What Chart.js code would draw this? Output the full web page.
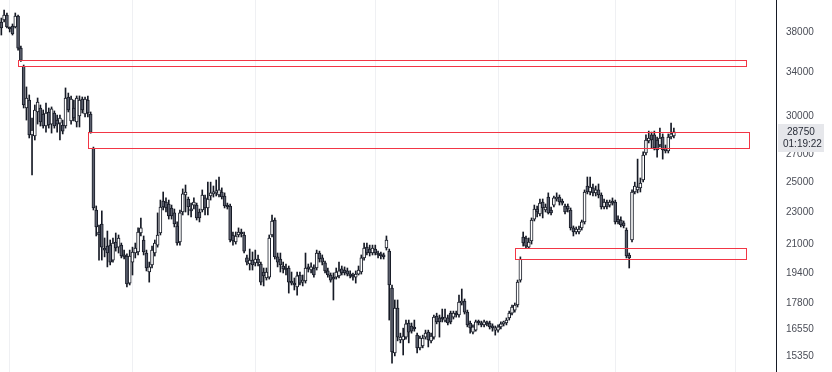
<!DOCTYPE html>
<html>
<head>
<meta charset="utf-8">
<script src="https://cdn.jsdelivr.net/npm/chart.js@4.4.0/dist/chart.umd.min.js"></script>
<style>
  html, body { margin: 0; padding: 0; background: #fff; }
  #wrap { width: 832px; height: 372px; }
</style>
</head>
<body>
<div id="wrap"><canvas id="chart" width="832" height="372"></canvas></div>
<script>
// daily bars (weekdays only), first bar 2022-04-27
const startDate = '2022-04-27'

const opens = [
  39080, 39300, 39860, 38440, 38650, 38540, 39750, 36340, 34540, 30740,
  31430, 28510, 28430, 30400, 30740, 30230, 29230, 30400, 29390, 30310,
  29720, 29470, 29310, 29230, 31700, 29640, 30740, 29560, 30060, 31520,
  30230, 31430, 30230, 27470, 23120, 21740, 22230, 20790, 20900, 20960,
  20100, 21140, 20840, 20960, 20390, 20330, 18850, 19990, 20500, 20560,
  21680, 21260, 20500, 19440, 19830, 20500, 20960, 21680, 23700, 23640,
  23510, 23250, 22930, 22110, 21140, 22990, 24110, 23840, 23180, 23440,
  23440, 22990, 23120, 23910, 23250, 24040, 24180, 24250, 24110, 24310,
  24040, 23440, 23380, 21560, 21140, 21560, 21680, 21560, 20220, 19880,
  20100, 19940, 20160, 19880, 19440, 19120, 19170, 21560, 22480, 20280,
  20160, 19770, 19660, 19660, 18960, 18850, 18650, 19280, 18900, 18960,
  19660, 19550, 19660, 19660, 20500, 20220, 19940, 19500, 19280, 19170,
  19170, 19230, 19610, 19550, 19500, 19330, 19230, 19170, 19330, 19440,
  20220, 20840, 20730, 20500, 20730, 20450, 20450, 20330, 20790, 20610,
  18590, 15510, 17580, 16080, 16080, 16210, 16860, 16720, 16630, 16300,
  15730, 15820, 16210, 16440, 16040, 16210, 17190, 17100, 17100, 17000,
  17100, 17330, 17140, 17290, 17240, 17830, 17930, 17380, 16860, 16440,
  16530, 16910, 16860, 16770, 16860, 16860, 16720, 16530, 16530, 16680,
  16820, 16860, 17100, 17330, 17480, 17730, 19010, 21440, 21380, 20840,
  21200, 22540, 23180, 22860, 23640, 23120, 23970, 23120, 23440, 23840,
  23970, 23640, 23380, 23380, 23120, 21990, 21740, 21740, 21990, 22360,
  24720, 24310, 24590, 24250, 24450, 24110, 23310, 23640, 23440, 23700,
  23640, 22540, 22480, 22300, 21860, 20390, 21260, 24310, 24450, 24590,
  25140, 27110, 28030, 28510, 28510, 28110, 27720, 28350, 27490, 27260,
  28350, 28430
]
const highs = [
  39520, 40420, 40080, 38540, 38870, 40080, 39860, 36550, 34660, 32600,
  31880, 29890, 31000, 31610, 31000, 30570, 31170, 30740, 30830, 30490,
  30140, 30140, 29720, 32510, 32050, 31790, 31430, 31790, 31790, 31700,
  31700, 31790, 30400, 27560, 23380, 22170, 23060, 21380, 21800, 21260,
  21380, 21680, 21560, 21080, 20670, 20450, 20670, 20840, 21080, 21990,
  22610, 21500, 20670, 19990, 20900, 21260, 22930, 23770, 24310, 23910,
  23770, 23440, 23180, 22360, 23120, 24520, 24790, 23970, 23570, 23910,
  23570, 23180, 24450, 24110, 24990, 24990, 24720, 25140, 25350, 24590,
  24250, 23570, 23510, 21740, 21740, 21990, 21920, 21740, 20390, 20730,
  20560, 20670, 20390, 19990, 19660, 19660, 21560, 22800, 22610, 20500,
  20500, 19990, 19880, 19770, 19440, 19120, 19440, 19440, 19280, 20500,
  19880, 19940, 19830, 20670, 20610, 20390, 20050, 19660, 19390, 19390,
  19660, 19990, 19770, 19720, 19660, 19500, 19390, 19500, 19770, 20390,
  21080, 21080, 20960, 20960, 20960, 20610, 20560, 20500, 21500, 20730,
  18750, 17980, 17980, 16390, 16620, 17000, 17000, 16860, 17000, 16390,
  16260, 16300, 16530, 16530, 16390, 17240, 17330, 17240, 17530, 17530,
  17240, 17430, 17430, 17430, 18230, 18540, 18030, 17480, 16950, 16770,
  17000, 17000, 16950, 17000, 16950, 16950, 16820, 16720, 16770, 16910,
  16950, 17100, 17430, 17730, 17830, 19010, 20280, 21740, 21500, 21380,
  22610, 23440, 23380, 23840, 23840, 23510, 24250, 23310, 24040, 24250,
  24110, 23840, 23510, 23510, 23250, 22110, 22050, 22110, 22480, 24450,
  25350, 25350, 24860, 24720, 24860, 24250, 23840, 23770, 23770, 23910,
  23770, 22740, 22680, 22420, 21990, 20500, 24450, 24990, 26650, 25280,
  27190, 28510, 28820, 28740, 28820, 28350, 29060, 28590, 27720, 28590,
  29470, 29060
]
const lows = [
  37690, 39080, 38440, 38010, 37690, 38440, 36140, 35000, 30740, 29720,
  28270, 25490, 28110, 29390, 29230, 29060, 28740, 29060, 28660, 29060,
  28740, 28110, 28590, 29060, 30400, 29390, 29640, 29150, 29150, 30310,
  29980, 29980, 28650, 23120, 21500, 20100, 20100, 20280, 19720, 19830,
  19990, 20610, 20500, 20220, 20160, 18650, 18750, 19280, 20220, 20390,
  21500, 20390, 19500, 18900, 19660, 20330, 20840, 21560, 23120, 22990,
  22540, 22540, 22050, 20960, 20960, 22800, 22990, 22800, 22680, 23180,
  22480, 22360, 22990, 22800, 22800, 23770, 23970, 24040, 23970, 23840,
  23250, 23180, 21140, 20960, 21020, 21440, 21440, 20500, 19830, 19550,
  19550, 19770, 19770, 18750, 18700, 19010, 19060, 21440, 20160, 19720,
  19440, 19390, 19280, 18330, 18750, 18490, 18230, 18750, 18700, 18850,
  19440, 19390, 19170, 19550, 19990, 19830, 19390, 19170, 18900, 17980,
  19060, 19120, 19280, 19280, 19230, 19120, 19010, 18850, 19280, 19330,
  20100, 20390, 20330, 20390, 20390, 20220, 20160, 20160, 20670, 17000,
  15070, 15380, 16040, 15950, 15420, 16120, 15950, 16390, 16480, 15510,
  15640, 15730, 16120, 15770, 15950, 16120, 16820, 16210, 16910, 16910,
  16770, 16820, 17050, 17140, 17140, 17730, 17290, 16680, 16390, 16350,
  16480, 16770, 16680, 16680, 16720, 16580, 16480, 16300, 16440, 16580,
  16720, 16770, 17000, 17240, 17380, 17630, 18900, 20900, 20780, 20790,
  21020, 22420, 22680, 22740, 22610, 22990, 22860, 22800, 23310, 23700,
  23440, 23440, 22860, 22990, 21860, 21500, 21620, 21620, 21860, 22230,
  24180, 24110, 24040, 24040, 23910, 23180, 23180, 23180, 23310, 23440,
  22230, 22230, 22050, 21990, 20220, 19660, 21140, 24180, 24250, 24310,
  25000, 26960, 27880, 27490, 27340, 26800, 27570, 26650, 27110, 27110,
  28190, 28270
]
const closes = [
  38440, 39860, 38540, 38330, 37800, 39750, 36340, 35120, 31000, 31610,
  28510, 28900, 30570, 31260, 29560, 29230, 30310, 29310, 30660, 29230,
  29390, 29890, 28820, 31610, 30570, 31520, 29890, 31610, 31430, 30570,
  31520, 30310, 28720, 23250, 22050, 21560, 20840, 20670, 20500, 19990,
  21080, 20790, 21380, 20330, 20280, 18800, 20330, 20560, 20790, 21740,
  21990, 20560, 19660, 19720, 20670, 21080, 21560, 23310, 23310, 23250,
  22740, 22740, 22230, 21080, 22930, 24180, 24310, 23310, 23060, 23640,
  22610, 22610, 24110, 23250, 23840, 24250, 24310, 24380, 24450, 23970,
  23380, 23310, 21260, 21200, 21500, 21740, 21620, 20610, 19990, 20100,
  19830, 20160, 19940, 18900, 19230, 19440, 21380, 22420, 20280, 19990,
  19830, 19610, 19550, 18900, 18850, 18750, 19230, 18850, 19010, 19660,
  19610, 19720, 19280, 20500, 20160, 19990, 19500, 19280, 19010, 19060,
  19440, 19500, 19390, 19390, 19330, 19230, 19170, 19330, 19550, 20220,
  20790, 20500, 20500, 20790, 20500, 20390, 20330, 20280, 21260, 18750,
  15550, 17580, 16210, 16210, 16260, 16820, 16440, 16480, 16580, 15730,
  16170, 16170, 16390, 16080, 16260, 17140, 16910, 16910, 17050, 17100,
  16860, 16910, 17330, 17240, 17880, 17930, 17380, 16770, 16630, 16680,
  16910, 16860, 16770, 16910, 16820, 16680, 16630, 16630, 16680, 16820,
  16860, 17000, 17330, 17630, 17730, 18900, 20140, 21080, 20900, 21140,
  22480, 23180, 22990, 23570, 23250, 23310, 22930, 22930, 23910, 23970,
  23640, 23570, 22990, 23180, 21990, 21740, 21920, 21920, 22360, 24310,
  24310, 24650, 24250, 24450, 24110, 23310, 23640, 23310, 23640, 23570,
  22360, 22360, 22170, 22110, 20330, 20220, 24310, 24720, 24650, 24930,
  26960, 28110, 28270, 28110, 27490, 27340, 28270, 27340, 27260, 28350,
  28590, 28750
]

// price scale labels
const yTicks = [15350, 16550, 17800, 19400, 21000, 23000, 25000, 27000, 30000, 34000, 38000]
// vertical grid at these month starts
const gridMonths = ['2022-05-01', '2022-07-01', '2022-09-01', '2022-11-01', '2023-01-01', '2023-03-01', '2023-05-01']

// gap zones (bar index where they start / end, price low / high)
const zoneStart = [6, 31, 184]
const zoneEnd = [267, 268, 267]
const zoneLow = [34535, 27465, 20143]
const zoneHigh = [35118, 28720, 20772]

const lastPrice = 28750
const countdown = '01:19:22'

function tradingIndex (iso) {
  const d = new Date(startDate + 'T00:00:00Z')
  const end = new Date(iso + 'T00:00:00Z')
  let n = 0
  while (d < end) {
    const w = d.getUTCDay()
    if (w !== 0 && w !== 6) n++
    d.setUTCDate(d.getUTCDate() + 1)
  }
  return n
}

const gridIdx = gridMonths.map(tradingIndex)

const bodies = closes.map((c, i) => ({ x: i, y: [opens[i], c] }))
const wicks = closes.map((c, i) => ({ x: i, y: [lows[i], highs[i]] }))
const bodyFill = closes.map((c, i) => c >= opens[i] ? '#ffffff' : '#5a5e6c')

const INK = '#161a25'
const FONT = '"Liberation Sans", Arial, sans-serif'

const zonePlugin = {
  id: 'zones',
  afterDatasetsDraw (chart) {
    const { ctx, scales: { x, y } } = chart
    ctx.save()
    ctx.strokeStyle = '#f23645'
    ctx.lineWidth = 1
    zoneLow.forEach((lo, k) => {
      const x0 = Math.round(x.getPixelForValue(zoneStart[k])) + 0.5
      const x1 = Math.round(x.getPixelForValue(zoneEnd[k])) + 0.5
      const y0 = Math.round(y.getPixelForValue(zoneHigh[k])) + 0.5
      const y1 = Math.round(y.getPixelForValue(lo)) + 0.5
      ctx.strokeRect(x0, y0, x1 - x0, y1 - y0)
    })
    ctx.restore()
  }
}

const lastLabel = {
  id: 'lastLabel',
  afterDraw (chart) {
    const { ctx, scales: { y } } = chart
    const py = Math.round(y.getPixelForValue(lastPrice))
    const left = y.left + 2
    ctx.save()
    ctx.fillStyle = '#e6e7eb'
    ctx.fillRect(left, py - 8, 46, 28)
    ctx.fillStyle = '#2a2e39'
    ctx.font = '10px ' + FONT
    ctx.textBaseline = 'middle'
    ctx.textAlign = 'left'
    ctx.fillText(String(lastPrice), left + 9, py)
    ctx.fillText(countdown, left + 5, py + 12)
    ctx.restore()
  }
}

new Chart(document.getElementById('chart'), {
  type: 'bar',
  data: {
    datasets: [{
      label: 'body',
      data: bodies,
      backgroundColor: bodyFill,
      borderColor: INK,
      borderWidth: 1,
      borderSkipped: false,
      barThickness: 3,
      minBarLength: 2,
      grouped: false
    }, {
      label: 'wick',
      data: wicks,
      backgroundColor: INK,
      borderWidth: 0,
      barThickness: 1,
      grouped: false
    }]
  },
  options: {
    responsive: false,
    animation: false,
    devicePixelRatio: 1,
    layout: { padding: 0 },
    plugins: {
      legend: { display: false },
      tooltip: { enabled: false }
    },
    scales: {
      x: {
        type: 'linear',
        min: -0.48,
        max: 277.6,
        offset: false,
        grid: { color: '#eff0f3', drawTicks: false, offset: false },
        border: { display: false },
        ticks: { display: false },
        afterBuildTicks: s => { s.ticks = gridIdx.map(v => ({ value: v })) },
        afterFit: s => { s.height = 0; s.paddingLeft = 0; s.paddingRight = 0 }
      },
      y: {
        type: 'logarithmic',
        position: 'right',
        min: 14704,
        max: 41562,
        grid: { color: 'rgba(0,0,0,0)', drawTicks: false },
        border: { display: true, color: INK, width: 1 },
        ticks: {
          autoSkip: false,
          padding: 10,
          color: '#4a4d57',
          font: { family: FONT, size: 10 },
          callback: v => String(v)
        },
        afterBuildTicks: s => { s.ticks = yTicks.map(v => ({ value: v })) },
        afterFit: s => { s.width = 56; s.paddingTop = 0; s.paddingBottom = 0 }
      }
    }
  },
  plugins: [zonePlugin, lastLabel]
})
</script>
</body>
</html>
